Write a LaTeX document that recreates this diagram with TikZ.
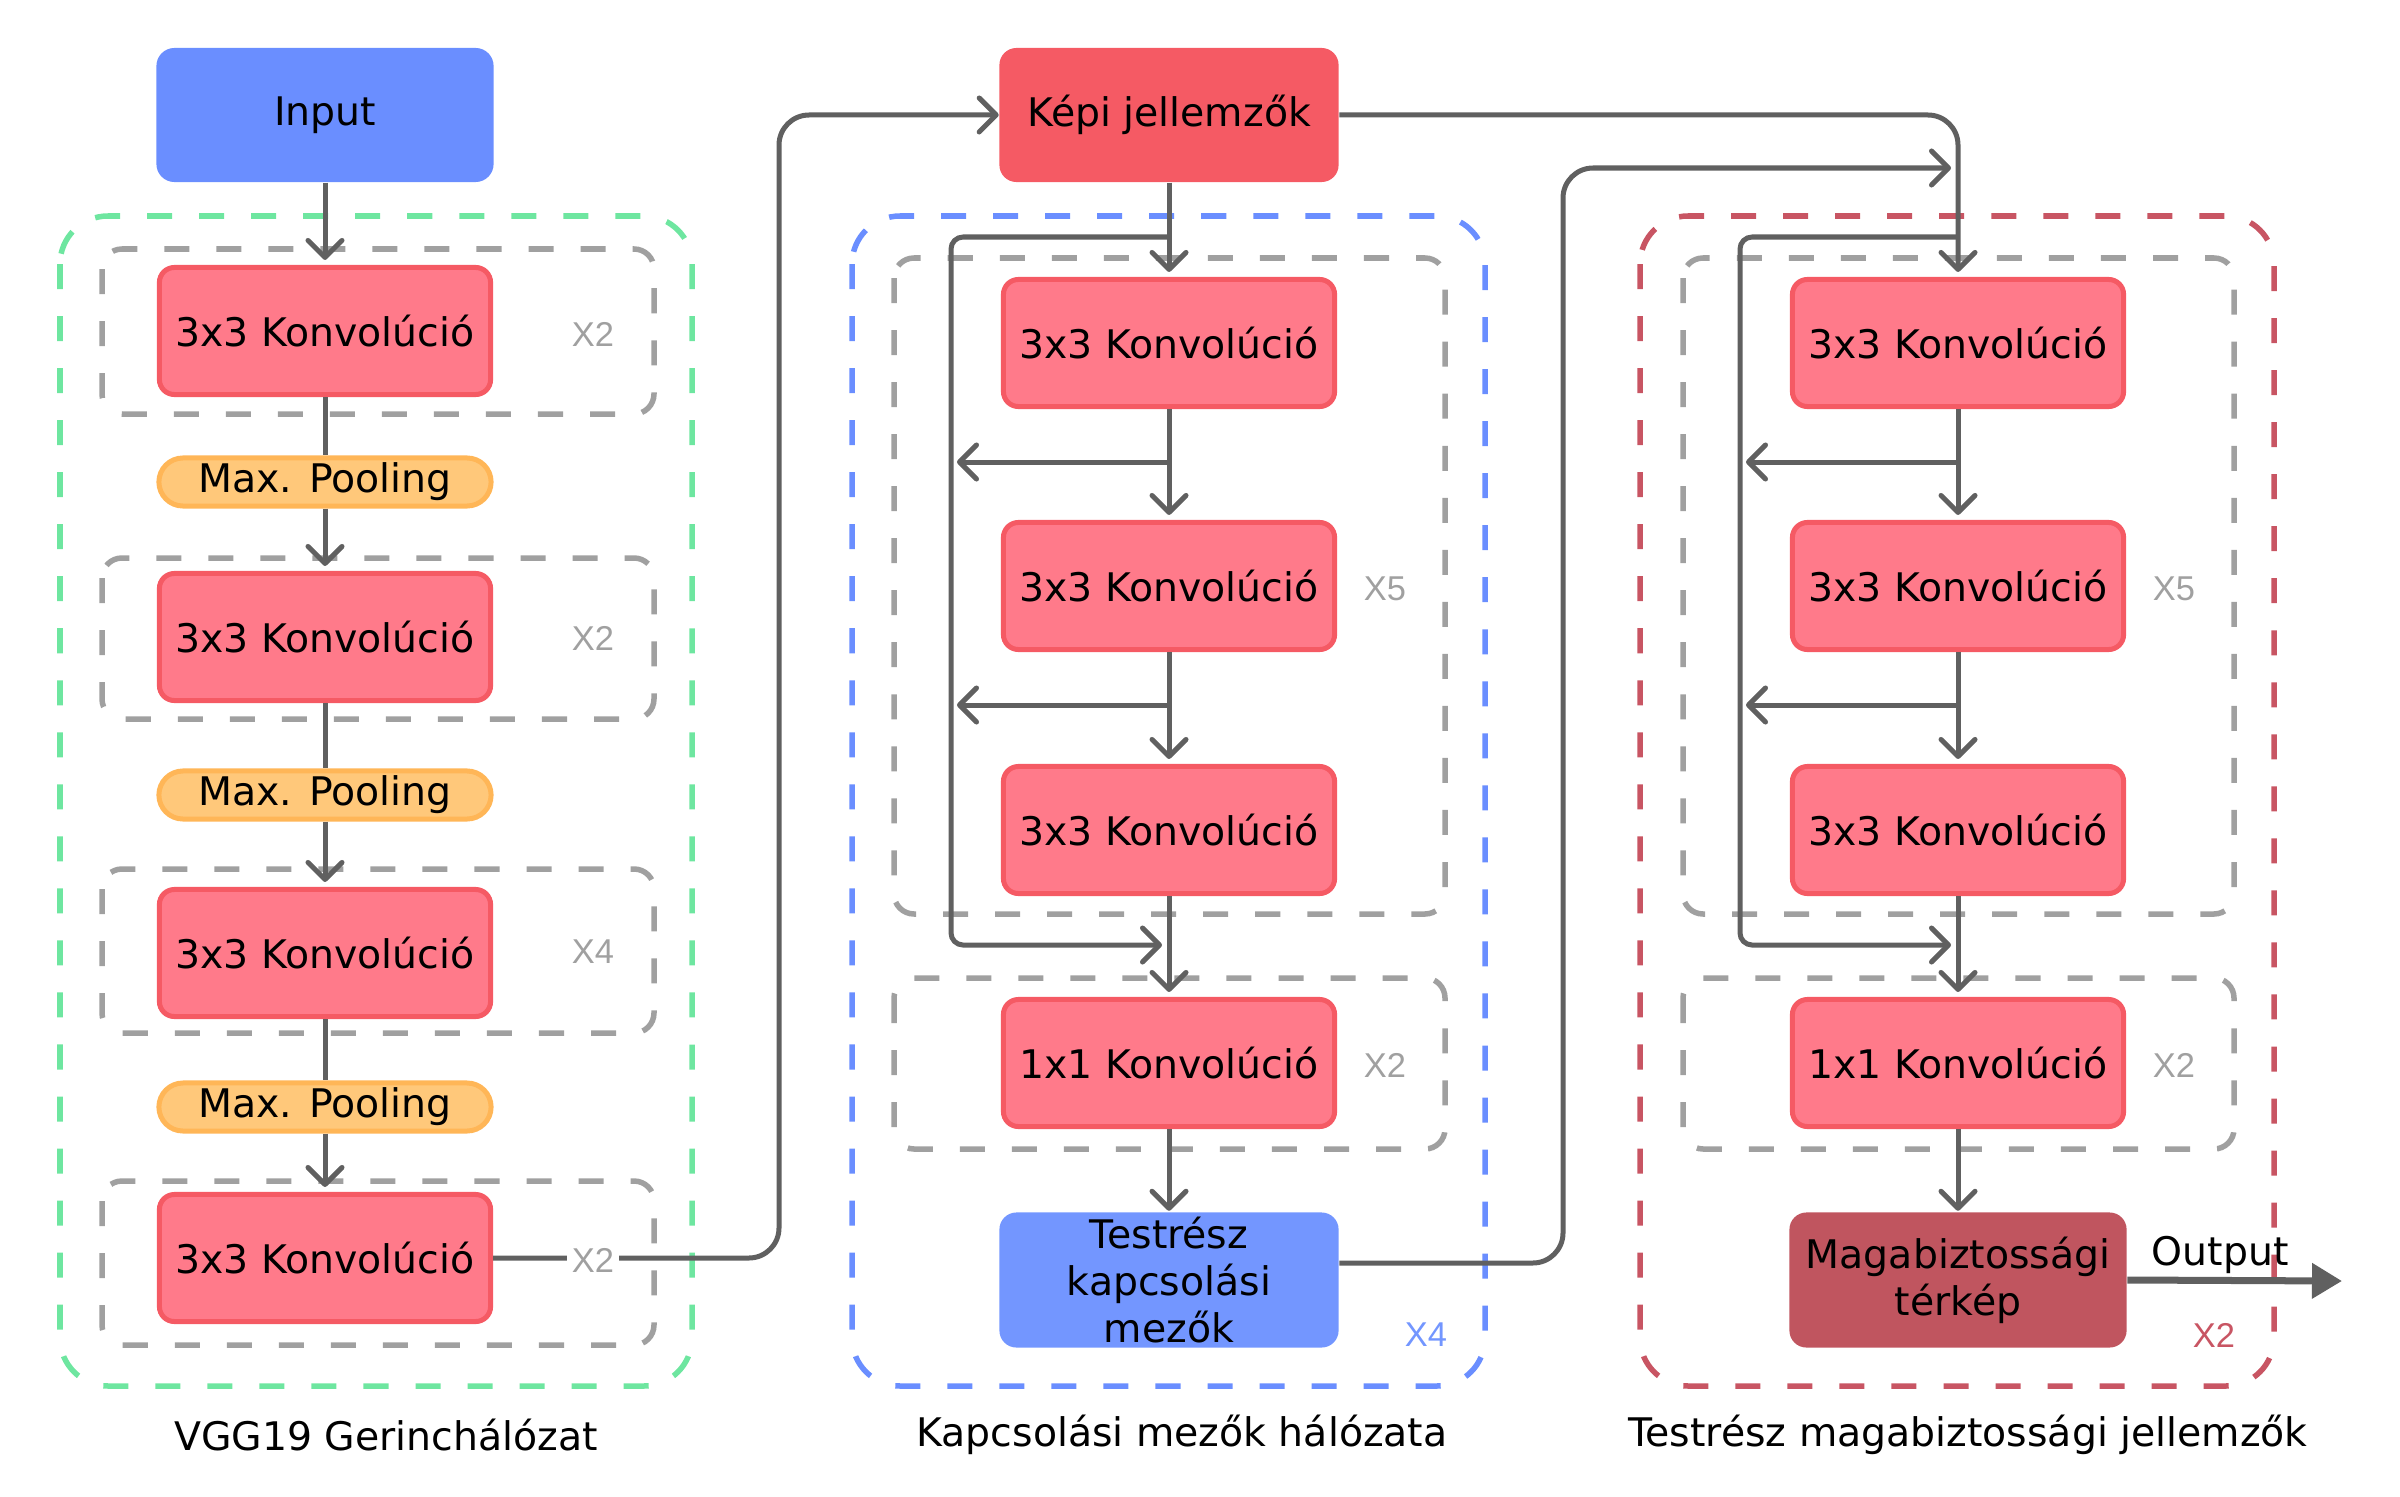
\documentclass[tikz,border=0pt]{standalone}
\usepackage{fontspec}
\setmainfont{DejaVu Sans}
\newfontfamily\xfont{Liberation Sans}
\usetikzlibrary{arrows.meta}
\definecolor{inblue}{HTML}{6A8EFF}
\definecolor{tsblue}{HTML}{7396FF}
\definecolor{convfill}{HTML}{FF7A8A}
\definecolor{convline}{HTML}{F55A64}
\definecolor{kepired}{HTML}{F55A64}
\definecolor{poolfill}{HTML}{FFC87A}
\definecolor{poolline}{HTML}{FFB657}
\definecolor{magred}{HTML}{C0555F}
\definecolor{grpgreen}{HTML}{6EE6A0}
\definecolor{grpblue}{HTML}{6A8EFF}
\definecolor{grpred}{HTML}{C85563}
\definecolor{grpgrey}{HTML}{A0A0A0}
\definecolor{conn}{HTML}{606060}
\begin{document}
\begin{tikzpicture}[x=0.01cm,y=-0.01cm,
 font=\fontsize{11.2}{13.4}\selectfont,
 box/.style={rounded corners=0.17cm, minimum width=3.37cm, minimum height=1.34cm, inner sep=0pt, align=center},
 conv/.style={box, fill=convfill, draw=convline, line width=0.05cm, minimum width=3.31cm, minimum height=1.27cm, rounded corners=0.15cm},
 pool/.style={rounded corners=0.24cm, minimum width=3.32cm, minimum height=0.48cm, inner sep=0pt, fill=poolfill, draw=poolline, line width=0.05cm},
 grp/.style={dash pattern=on 0.25cm off 0.27cm, line width=0.055cm},
 inner/.style={grp, draw=grpgrey, rounded corners=0.2cm},
 outer/.style={grp, rounded corners=0.48cm},
 link/.style={draw=conn, line width=0.05cm, rounded corners=0.12cm},
 arr/.style={link, -{Straight Barb[length=0.17cm,width=0.34cm,round]}},
 arrs/.style={arr, shorten >=0.05cm},
 rep/.style={font=\xfont\fontsize{9.8}{11}\selectfont, text=grpgrey, inner sep=1.5pt},
 captxt/.style={inner sep=0pt},
]
\useasboundingbox (0,0) rectangle (2400,1497);

% groups
\draw[outer, draw=grpgreen] (60,216) rectangle (692,1386);
\draw[inner] (102,249) rectangle (654,414);
\draw[inner] (102,558) rectangle (654,719);
\draw[inner] (102,869) rectangle (654,1033);
\draw[inner] (102,1181) rectangle (654,1345);
\draw[outer, draw=grpblue] (852,216) rectangle (1485,1386);
\draw[inner] (894,258) rectangle (1445,914);
\draw[inner] (894,978) rectangle (1445,1149);
\draw[outer, draw=grpred] (1640,216) rectangle (2274,1386);
\draw[inner] (1683,258) rectangle (2234,914);
\draw[inner] (1683,978) rectangle (2234,1149);

% left column
\node[box, fill=inblue, rounded corners=0.18cm] (input) at (325,115) {Input};
\node[conv] (c1) at (325,331) {3x3 Konvolúció};
\node[pool] (p1) at (325,482) {Max. Pooling};
\node[conv] (c2) at (325,637) {3x3 Konvolúció};
\node[pool] (p2) at (325,795) {Max. Pooling};
\node[conv] (c3) at (325,953) {3x3 Konvolúció};
\node[pool] (p3) at (325,1107) {Max. Pooling};
\node[conv] (c4) at (325,1258) {3x3 Konvolúció};
\node[rep] (r1) at (593,334) {X2};
\node[rep] (r2) at (593,638) {X2};
\node[rep] (r3) at (593,952) {X4};

% middle column
\node[box, fill=kepired, minimum width=3.39cm] (kepi) at (1169,115) {Képi jellemzők};
\node[conv] (a1) at (1169,343) {3x3 Konvolúció};
\node[conv] (a2) at (1169,586) {3x3 Konvolúció};
\node[conv] (a3) at (1169,830) {3x3 Konvolúció};
\node[conv] (a4) at (1169,1063) {1x1 Konvolúció};
\node[box, fill=tsblue, minimum width=3.39cm, minimum height=1.35cm] (ts) at (1169,1280) {Testrész\\kapcsolási\\mezők};
\node[rep] (r5) at (1385,589) {X5};
\node[rep] (r6) at (1385,1065) {X2};
\node[rep, text=tsblue] (r7) at (1426,1335) {X4};

% right column
\node[conv] (b1) at (1958,343) {3x3 Konvolúció};
\node[conv] (b2) at (1958,586) {3x3 Konvolúció};
\node[conv] (b3) at (1958,830) {3x3 Konvolúció};
\node[conv] (b4) at (1958,1063) {1x1 Konvolúció};
\node[box, fill=magred, minimum width=3.37cm, minimum height=1.35cm] (mag) at (1958,1280) {Magabiztossági\\térkép};
\node[rep] (r8) at (2174,589) {X5};
\node[rep] (r9) at (2174,1065) {X2};
\node[rep, text=grpred] (r10) at (2214,1335) {X2};

% captions
\node[captxt] (cap1) at (386,1435) {VGG19 Gerinchálózat};
\node[captxt] (cap2) at (1182,1435) {Kapcsolási mezők hálózata};
\node[captxt] (cap3) at (1968,1435) {Testrész magabiztossági jellemzők};

% coordinates
\coordinate (j1) at (779,115);
\coordinate (j2) at (1958,115);
\coordinate (j3) at (1563,168);
\coordinate (tt) at (1951,168);
\coordinate (sa) at (1169,237);
\coordinate (sb) at (951,945);
\coordinate (se) at (1162,945);
\coordinate (ba1) at (1169,462);
\coordinate (bt1) at (957,462);
\coordinate (ba2) at (1169,705);
\coordinate (bt2) at (957,705);
\coordinate (sc) at (1958,237);
\coordinate (sd) at (1740,945);
\coordinate (sf) at (1951,945);
\coordinate (bb1) at (1958,462);
\coordinate (bu1) at (1746,462);
\coordinate (bb2) at (1958,705);
\coordinate (bu2) at (1746,705);
\coordinate (outtip) at (2342,1281);

% left connectors
\draw[arrs] (input) -- (c1);
\draw[link] (c1) -- (p1);
\draw[arrs] (p1) -- (c2);
\draw[link] (c2) -- (p2);
\draw[arrs] (p2) -- (c3);
\draw[link] (c3) -- (p3);
\draw[arrs] (p3) -- (c4);
\draw[arr, rounded corners=0.3cm] (c4.east) -| (j1) -- (kepi.west);
\node[rep, fill=white] (r4) at (593,1260) {X2};

% middle connectors
\draw[arrs] (kepi) -- (a1);
\draw[arrs] (a1) -- (a2);
\draw[arrs] (a2) -- (a3);
\draw[arrs] (a3) -- (a4);
\draw[arr, shorten >=0.01cm] (a4) -- (ts);
\draw[arr] (sa) -| (sb) -- (se);
\draw[arr] (ba1) -- (bt1);
\draw[arr] (ba2) -- (bt2);

% right connectors
\draw[arrs, rounded corners=0.3cm] (kepi.east) -- (j2) -- (b1);
\draw[arr, rounded corners=0.3cm] ([yshift=0.17cm]ts.east) -| (j3) -- (tt);
\draw[arrs] (b1) -- (b2);
\draw[arrs] (b2) -- (b3);
\draw[arrs] (b3) -- (b4);
\draw[arr, shorten >=0.01cm] (b4) -- (mag);
\draw[arr] (sc) -| (sd) -- (sf);
\draw[arr] (bb1) -- (bu1);
\draw[arr] (bb2) -- (bu2);
\draw[draw=conn, line width=0.07cm, -{Triangle[length=0.3cm,width=0.34cm]}] (mag.east) -- (outtip);
\node[captxt, anchor=base] (outlbl) at (2220,1265) {Output};
\end{tikzpicture}
\end{document}
